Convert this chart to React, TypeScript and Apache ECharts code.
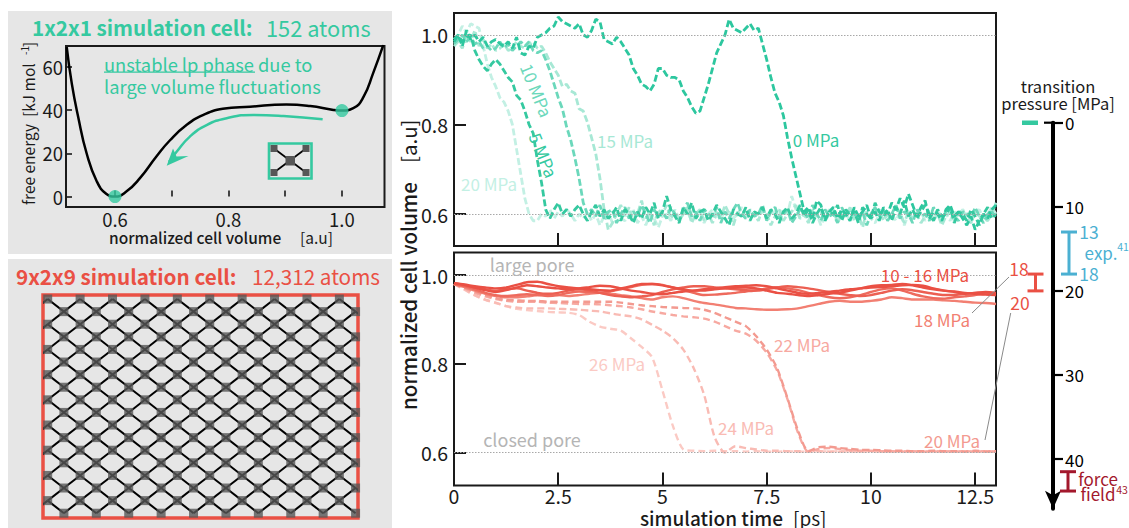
import React, { useEffect, useRef } from "react";
import * as echarts from "echarts";

const FONT = '"Noto Sans CJK SC","Noto Sans",sans-serif';
const TEAL = "#35c9a0";
const RED = "#ea5044";
const BLUE = "#4bb0d2";
const DARKRED = "#a3182c";
const INK = "#1a1a1a";

// Panel A: free energy profile [volume, kJ/mol]
const freeEnergy = [
  [0.515, 69], [0.524, 52], [0.535, 37], [0.55, 20], [0.568, 7], [0.585, 1.2], [0.6, 0], [0.62, 2.3],
  [0.644, 8.5], [0.673, 18.5], [0.697, 26], [0.726, 33], [0.756, 37.7], [0.79, 40.5], [0.838, 41.5],
  [0.902, 42.5], [0.944, 41.8], [0.985, 40], [1.0, 39.7], [1.02, 40.8], [1.038, 46], [1.055, 57], [1.073, 70],
];
const freeEnergyMarks = [[0.6, 0], [1.0, 39.7]];
const collapsePath = [
  [0.966, 35.7], [0.897, 37.2], [0.844, 37.7], [0.797, 36.2], [0.7615, 33], [0.732, 27.7], [0.709, 20.8], [0.695, 16],
];

// Lattice diagram
const latticeColumns = 20;
const latticeRows = 18;

// Top panel: 152 atoms, sampled every 0.1 ps
const mpa0 = [
  .985,
  1.0, .975, 1.01, .99, 1.0, .985, .995, .975, .985, .99,
  .98, .975, .985, .97, .995, .96, .955, .975, .97, .995,
  1.0, 1.005, 1.015, 1.02, 1.04, 1.03, 1.025, 1.02, 1.015, 1.025,
  1.0, .995, 1.01, 1.035, 1.03, .99, .985, .98, .995, .985,
  .97, .955, .925, .91, .89, .885, .875, .89, .925, .925,
  .91, .905, .905, .9, .875, .86, .84, .825, .83, .86,
  .89, .925, .96, .98, 1.0, 1.035, 1.015, 1.01, 1.005, 1.015,
  1.025, 1.01, 1.015, .98, .945, .905, .87, .85, .82, .77,
  .725, .685, .645, .605, .615, .59, .63, .62, .585, .605,
  .615, .59, .61, .6, .585, .615, .595, .605, .62, .59,
  .605, .585, .615, .6, .625, .61, .635, .615, .645, .62,
  .595, .615, .63, .59, .605, .6, .585, .61, .62, .595,
  .605, .59, .575, .595, .565, .585, .6, .59, .61, .62,
];
const mpa5 = [
  .99,
  1.0, .985, .995, 1.0, .965, .945, .93, .92, .935, .945,
  .935, .92, .905, .895, .865, .855, .83, .8, .78, .72,
  .67, .61, .59, .61, .625, .6, .61, .595, .61, .62,
  .6, .585, .605, .62, .595, .61, .59, .6, .615, .585,
  .61, .6, .58, .605, .59, .615, .6, .625, .59, .605,
  .64, .61, .595, .58, .615, .6, .625, .59, .605, .61,
  .585, .6, .62, .605, .59, .575, .61, .6, .595, .615,
  .585, .605, .6, .615, .59, .61, .6, .58, .605, .615,
  .59, .6, .62, .595, .61, .58, .6, .615, .59, .605,
  .6, .62, .585, .61, .595, .605, .58, .615, .6, .59,
  .625, .605, .595, .61, .585, .615, .6, .63, .595, .61,
  .59, .605, .62, .6, .585, .61, .595, .6, .615, .58,
  .605, .6, .585, .61, .595, .575, .6, .615, .59, .6,
];
const mpa10 = [
  .98,
  .99, 1.0, .985, .995, .98, .985, .97, .975, .965, .97,
  .985, .97, .98, .965, .975, .985, .975, .985, .965, .96,
  .965, .945, .92, .89, .86, .835, .795, .765, .725, .68,
  .625, .6, .61, .595, .62, .59, .605, .61, .58, .6,
  .615, .59, .605, .595, .62, .6, .58, .61, .595, .605,
  .59, .615, .6, .585, .61, .625, .595, .605, .585, .61,
  .6, .595, .615, .58, .605, .59, .61, .625, .6, .59,
  .61, .595, .6, .62, .585, .605, .615, .59, .6, .61,
  .58, .595, .61, .605, .59, .62, .6, .585, .61, .595,
  .6, .58, .615, .595, .61, .6, .59, .605, .575, .6,
  .615, .595, .61, .585, .6, .62, .59, .605, .6, .58,
  .61, .595, .6, .585, .615, .6, .59, .605, .61, .595,
  .585, .605, .6, .59, .615, .595, .58, .6, .605, .59,
];
const mpa15 = [
  .975,
  .985, .97, 1.0, .985, 1.01, .975, .99, .97, .98, .965,
  .97, .98, .965, .97, .985, .975, .97, .98, .985, .97,
  .975, .96, .94, .925, .91, .885, .89, .875, .87, .835,
  .83, .805, .77, .735, .68, .61, .565, .58, .6, .62,
  .595, .615, .585, .6, .63, .59, .605, .575, .61, .6,
  .62, .59, .605, .585, .6, .615, .58, .6, .61, .585,
  .6, .58, .605, .59, .62, .6, .575, .605, .595, .61,
  .59, .6, .585, .61, .6, .575, .595, .61, .585, .6,
  .605, .62, .59, .6, .58, .61, .595, .605, .585, .6,
  .61, .58, .6, .595, .615, .585, .6, .57, .605, .59,
  .6, .61, .585, .6, .59, .62, .6, .58, .605, .59,
  .6, .58, .595, .61, .585, .6, .575, .595, .605, .585,
  .6, .61, .59, .58, .605, .595, .59, .585, .6, .625,
];
const mpa20 = [
  .99,
  1.0, 1.02, 1.005, 1.025, 1.02, 1.015, .975, .935, .905, .885,
  .86, .85, .83, .8, .745, .69, .635, .6, .585, .585,
  .6, .595, .61, .59, .605, .595, .61, .6, .585, .6,
  .59, .605, .585, .6, .575, .595, .605, .58, .6, .59,
  .585, .6, .61, .58, .595, .575, .6, .59, .57, .595,
  .6, .585, .61, .59, .6, .605, .585, .59, .605, .58,
  .6, .61, .59, .6, .595, .605, .59, .6, .615, .59,
  .605, .595, .6, .61, .59, .6, .605, .595, .61, .6,
  .64, .61, .59, .6, .585, .605, .6, .575, .595, .61,
  .6, .59, .605, .6, .585, .61, .595, .6, .605, .59,
  .58, .6, .61, .595, .6, .585, .605, .575, .6, .61,
  .59, .605, .585, .6, .595, .61, .59, .6, .585, .605,
  .595, .61, .6, .585, .6, .61, .59, .6, .615, .6,
];

// Bottom panel: 12,312 atoms, sampled every 0.25 ps
const big10 = [.982, .978, .972, .966, .962, .966, .972, .977, .975, .972, .97, .968, .97, .973, .976, .975, .97, .965, .962, .958, .957, .96, .963, .965, .968, .97, .973, .975, .976, .977, .975, .97, .965, .96, .958, .96, .962, .965, .968, .97, .972, .973, .975, .977, .978, .976, .97, .965, .962, .958, .96, .962, .96];
const big12 = [.982, .979, .975, .972, .97, .972, .978, .984, .985, .98, .975, .972, .97, .968, .966, .965, .97, .975, .98, .98, .977, .972, .968, .965, .965, .968, .97, .972, .972, .97, .965, .96, .958, .955, .953, .955, .958, .96, .965, .97, .975, .977, .978, .98, .977, .972, .968, .965, .963, .96, .958, .956, .955];
const big14 = [.981, .977, .972, .968, .965, .968, .97, .965, .96, .958, .96, .965, .968, .965, .96, .955, .952, .95, .952, .955, .962, .968, .972, .975, .975, .972, .97, .968, .966, .965, .968, .972, .975, .973, .97, .966, .962, .958, .955, .953, .955, .96, .965, .968, .966, .962, .958, .955, .955, .958, .96, .958, .955];
const big16 = [.98, .975, .968, .96, .955, .953, .955, .957, .955, .953, .955, .96, .963, .962, .96, .963, .968, .973, .978, .98, .978, .972, .966, .96, .955, .956, .958, .96, .963, .966, .97, .973, .97, .966, .96, .955, .95, .948, .95, .955, .962, .968, .97, .965, .958, .952, .948, .947, .95, .952, .955, .958, .957];
const big18 = [.98, .973, .965, .958, .953, .95, .95, .952, .955, .957, .955, .953, .955, .958, .96, .958, .955, .952, .948, .945, .95, .952, .948, .942, .937, .934, .93, .926, .925, .923, .922, .922, .923, .925, .93, .935, .94, .942, .94, .94, .942, .945, .95, .948, .945, .945, .945, .943, .942, .94, .938, .937, .935];
const big20 = [.98, .972, .963, .955, .948, .944, .943, .942, .942, .94, .94, .94, .94, .94, .94, .94, .938, .935, .932, .93, .928, .927, .926, .925, .922, .915, .905, .895, .885, .862, .832, .79, .722, .65, .603, .612, .613, .61, .608, .606, .606, .605, .604, .604, .603, .603, .604, .603, .603, .602, .604, .602, .603];
const big22 = [.98, .97, .96, .952, .946, .942, .94, .94, .94, .938, .937, .936, .935, .935, .934, .932, .93, .927, .923, .918, .914, .91, .907, .905, .902, .895, .885, .875, .868, .852, .825, .785, .72, .645, .602, .608, .61, .608, .605, .604, .604, .603, .603, .602, .603, .602, .602, .603, .602, .603, .602, .603, .602];
const big24 = [.98, .968, .955, .945, .938, .93, .927, .925, .925, .925, .924, .923, .922, .92, .918, .914, .91, .907, .9, .888, .875, .858, .832, .79, .73, .635, .6, .614, .61, .607, .604, .604, .603, .603, .602, .603, .602, .602, .603, .602, .603, .602, .602, .603, .602, .602, .603, .602, .603, .602, .602, .603, .602];
const big26 = [.98, .967, .954, .944, .937, .93, .924, .921, .919, .917, .916, .915, .91, .895, .884, .879, .875, .857, .838, .815, .74, .66, .607, .604, .603, .604, .603, .603, .602, .603, .602, .602, .603, .602, .602, .603, .602, .603, .602, .602, .603, .602, .602, .603, .602, .602, .603, .602, .602, .603, .602, .602, .603];

// Pressure scale
const pressureTicks = [0, 10, 20, 30, 40];
const simulatedTransition = [18, 20];
const experimentalTransition = [13, 18];
const forceFieldTransition = [41.5, 43.8];

const timeTicks = [0, 2.5, 5, 7.5, 10, 12.5];
const withTimes = (vals: number[], step: number) => vals.map((v, i) => [i * step, v]);

function latticeNodes() {
  const out: number[][] = [];
  for (let r = 0; r < latticeRows; r++)
    for (let c = r % 2; c < latticeColumns; c += 2) out.push([c, r]);
  return out;
}
function latticeBonds() {
  const out: number[][] = [];
  for (const [c, r] of latticeNodes()) {
    if (r + 1 < latticeRows) {
      out.push([c, r, c + 1, r + 1]);
      out.push([c, r, c - 1, r + 1]);
    }
  }
  return out;
}

function txt(text: string, x: number, y: number, fill: string, fontSize: number, extra: any = {}) {
  const { rotation, fontWeight, textAlign } = extra;
  return {
    type: "text", x, y, z: 100, rotation: rotation || 0, silent: true,
    style: { text, fill, fontSize, fontFamily: FONT, fontWeight: fontWeight || 400, textAlign: textAlign || "center", textVerticalAlign: "middle" },
  };
}
const seg = (x1: number, y1: number, x2: number, y2: number, stroke: string, lineWidth: number, z = 50) => ({
  type: "line", z, silent: true, shape: { x1, y1, x2, y2 }, style: { stroke, lineWidth },
});
const box = (x: number, y: number, w: number, h: number, fill: string, z = 50) => ({
  type: "rect", z, silent: true, shape: { x, y, width: w, height: h }, style: { fill },
});
const deg = (d: number) => (d * Math.PI) / 180;

export default function App() {
  const ref = useRef<HTMLDivElement>(null);
  useEffect(() => {
    const chart = echarts.init(ref.current!, null, { renderer: "svg" });
    const trace = (name: string, vals: number[], color: string, width: number, xi: number, step: number, extra: any = {}) => ({
      name, type: "line", xAxisIndex: xi, yAxisIndex: xi, data: withTimes(vals, step), showSymbol: false, symbol: "none",
      lineStyle: { color, width, type: extra.dash || "solid" }, smooth: extra.smooth || false, silent: true, ...(extra.more || {}),
    });
    const refLines = (xi: number) => ({
      type: "line", xAxisIndex: xi, yAxisIndex: xi, data: [], symbol: "none", silent: true,
      markLine: {
        silent: true, symbol: "none", label: { show: false },
        lineStyle: { color: "#a8a8a8", width: 1, type: [1.5, 1.5] }, data: [{ yAxis: 1.0 }, { yAxis: 0.6 }],
      },
    });
    const labelStyle = { fontFamily: FONT, color: INK };
    const hiddenAxis = { show: false };
    const timeAxis = (gridIndex: number, showLabels: boolean) => ({
      type: "value", gridIndex, min: 0, max: 13, interval: 2.5,
      axisLine: { show: false }, splitLine: { show: false },
      axisTick: { show: true, inside: true, length: 13, lineStyle: { color: INK, width: 2 }, customValues: timeTicks },
      axisLabel: { show: showLabels, fontSize: 19.5, margin: 0, customValues: timeTicks, ...labelStyle },
    });
    const volAxis = (gridIndex: number, min: number, max: number, ticks: number[]) => ({
      type: "value", gridIndex, min, max,
      axisLine: { show: false }, splitLine: { show: false },
      axisTick: { show: true, inside: true, length: 12, lineStyle: { color: INK, width: 2 }, customValues: ticks },
      axisLabel: { fontSize: 19.5, margin: 6, customValues: [0.6, 0.8, 1.0], formatter: (v: number) => v.toFixed(1), ...labelStyle },
    });
    const bracket = (name: string, range: number[], xc: number, color: string) => ({
      name, type: "custom", xAxisIndex: 4, yAxisIndex: 4, clip: false, silent: true, data: [[xc, range[0], range[1]]],
      renderItem: (_: any, api: any) => {
        const a = api.coord([api.value(0), api.value(1)]);
        const b = api.coord([api.value(0), api.value(2)]);
        const st = { stroke: color, lineWidth: 3, fill: "none" };
        return {
          type: "group",
          children: [
            { type: "line", shape: { x1: a[0], y1: a[1], x2: b[0], y2: b[1] }, style: st },
            { type: "line", shape: { x1: a[0] - 8, y1: a[1], x2: a[0] + 8, y2: a[1] }, style: st },
            { type: "line", shape: { x1: b[0] - 8, y1: b[1], x2: b[0] + 8, y2: b[1] }, style: st },
          ],
        };
      },
    });

    chart.setOption({
      animation: false,
      backgroundColor: "#fff",
      grid: [
        { left: 66, top: 46, width: 318.5, height: 161, show: true, borderColor: INK, borderWidth: 2, backgroundColor: "transparent" },
        { left: 43, top: 295, width: 315, height: 223, show: true, borderColor: RED, borderWidth: 3.5, backgroundColor: "transparent" },
        { left: 454, top: 13, width: 542, height: 233, show: true, borderColor: INK, borderWidth: 2, backgroundColor: "transparent" },
        { left: 454, top: 252.5, width: 542, height: 233, show: true, borderColor: INK, borderWidth: 2, backgroundColor: "transparent" },
        { left: 1000, top: 122.7, width: 120, height: 386 },
      ],
      xAxis: [
        {
          type: "value", gridIndex: 0, min: 0.5137, max: 1.075, interval: 0.1,
          axisLine: { show: false }, splitLine: { show: false },
          axisTick: { show: true, inside: true, length: 6, lineStyle: { color: INK, width: 1.6 }, customValues: [0.6, 0.7, 0.8, 0.9, 1.0] },
          axisLabel: { fontSize: 18.5, margin: 3, customValues: [0.6, 0.8, 1.0], formatter: (v: number) => v.toFixed(1), ...labelStyle },
        },
        { type: "value", gridIndex: 1, min: -0.29, max: 19.15, ...hiddenAxis },
        timeAxis(2, false),
        timeAxis(3, true),
        { type: "value", gridIndex: 4, min: 0, max: 120, ...hiddenAxis },
      ],
      yAxis: [
        {
          type: "value", gridIndex: 0, min: -4.8, max: 69.5, interval: 20,
          axisLine: { show: false }, splitLine: { show: false },
          axisTick: { show: true, inside: true, length: 6, lineStyle: { color: INK, width: 1.6 }, customValues: [0, 20, 40, 60] },
          axisLabel: { fontSize: 18.5, margin: 3, customValues: [0, 20, 40, 60], ...labelStyle },
        },
        { type: "value", gridIndex: 1, min: -0.32, max: 17.38, inverse: true, ...hiddenAxis },
        volAxis(2, 0.5286, 1.049, [0.6, 0.8]),
        volAxis(3, 0.5256, 1.051, [0.6, 0.8, 1.0]),
        {
          type: "value", gridIndex: 4, min: 0, max: 45.9, inverse: true, position: "left", offset: -53,
          axisLine: { show: true, onZero: false, symbol: ["arrow", "none"], symbolSize: [12, 18], lineStyle: { color: "#000", width: 4 } },
          splitLine: { show: false },
          axisTick: { show: true, inside: true, length: 10, lineStyle: { color: "#000", width: 2.2 }, customValues: pressureTicks },
          axisLabel: { inside: true, fontSize: 17, margin: 12, customValues: pressureTicks, color: "#000", fontFamily: FONT },
        },
      ],
      series: [
        // Panel A
        { type: "line", xAxisIndex: 0, yAxisIndex: 0, data: freeEnergy, smooth: 0.5, symbol: "none", lineStyle: { color: "#000", width: 2.5 }, silent: true },
        { type: "line", xAxisIndex: 0, yAxisIndex: 0, data: collapsePath, smooth: 0.5, symbol: "none", lineStyle: { color: TEAL, width: 2.5 }, silent: true },
        { type: "scatter", xAxisIndex: 0, yAxisIndex: 0, data: freeEnergyMarks, symbolSize: 13, itemStyle: { color: TEAL }, silent: true, z: 5, clip: false },
        // Lattice
        {
          type: "custom", xAxisIndex: 1, yAxisIndex: 1, data: latticeBonds(), silent: true, clip: true, z: 2,
          renderItem: (_: any, api: any) => {
            const a = api.coord([api.value(0), api.value(1)]);
            const b = api.coord([api.value(2), api.value(3)]);
            return { type: "line", shape: { x1: a[0], y1: a[1], x2: b[0], y2: b[1] }, style: { stroke: "#000", lineWidth: 2 } };
          },
        },
        { type: "scatter", xAxisIndex: 1, yAxisIndex: 1, data: latticeNodes(), symbol: "rect", symbolSize: 9, itemStyle: { color: "#575757" }, silent: true, clip: true, z: 3 },
        // Top panel
        refLines(2),
        trace("20 MPa", mpa20, "#c3f0e4", 2.8, 2, 0.1, { dash: [7, 3] }),
        trace("15 MPa", mpa15, "#a7e8d5", 2.8, 2, 0.1, { dash: [7, 3] }),
        trace("10 MPa", mpa10, "#6bd8bb", 2.8, 2, 0.1, { dash: [7, 3] }),
        trace("5 MPa", mpa5, TEAL, 2.8, 2, 0.1, { dash: [7, 3] }),
        trace("0 MPa", mpa0, "#2dc79f", 2.8, 2, 0.1, { dash: [7, 3] }),
        // Bottom panel
        refLines(3),
        trace("26 MPa", big26, "#fbcac4", 2.4, 3, 0.25, { dash: [7, 4], smooth: 0.25 }),
        trace("24 MPa", big24, "#f9bbb4", 2.4, 3, 0.25, { dash: [7, 4], smooth: 0.25 }),
        trace("22 MPa", big22, "#f7a9a1", 2.4, 3, 0.25, { dash: [7, 4], smooth: 0.25 }),
        trace("20 MPa", big20, "#f39a90", 2.4, 3, 0.25, { dash: [7, 4], smooth: 0.25 }),
        trace("18 MPa", big18, "#f27f72", 2.4, 3, 0.25, { smooth: 0.25 }),
        trace("16 MPa", big16, "#ee6a5d", 2.4, 3, 0.25, { smooth: 0.25 }),
        trace("14 MPa", big14, "#ec5f52", 2.4, 3, 0.25, { smooth: 0.25 }),
        trace("12 MPa", big12, RED, 2.4, 3, 0.25, { smooth: 0.25 }),
        trace("10 MPa", big10, RED, 2.4, 3, 0.25, { smooth: 0.25 }),
        // Pressure scale
        bracket("simulation", simulatedTransition, 35.5, RED),
        bracket("experiment", experimentalTransition, 69, BLUE),
        bracket("force field", forceFieldTransition, 68, DARKRED),
      ],
      graphic: {
        elements: [
          box(8, 11, 384, 243, "#e6e6e6", -10),
          box(8, 259, 384, 269, "#e6e6e6", -10),
          // panel A text
          txt("1x2x1 simulation cell:", 32, 27, TEAL, 20.7, { textAlign: "left", fontWeight: 700 }),
          txt("152 atoms", 266, 27, TEAL, 21.8, { textAlign: "left" }),
          txt("unstable lp phase due to", 104, 64, TEAL, 18.3, { textAlign: "left" }),
          txt("large volume fluctuations", 104, 86, TEAL, 18.3, { textAlign: "left" }),
          box(104, 71.5, 151, 1.3, TEAL),
          txt("free energy  [kJ mol", 28, 205, INK, 15.5, { textAlign: "left", rotation: deg(90) }),
          txt("-1", 24.5, 55, INK, 10, { textAlign: "left", rotation: deg(90) }),
          txt("]", 28, 47, INK, 15.5, { textAlign: "left", rotation: deg(90) }),
          txt("normalized cell volume", 109, 237, INK, 15.5, { textAlign: "left", fontWeight: 500 }),
          txt("[a.u]", 300, 237, INK, 15.5, { textAlign: "left" }),
          { type: "polygon", z: 50, silent: true, shape: { points: [[166.7, 165.7], [173, 148.5], [176.5, 156.5], [188.5, 156]] }, style: { fill: TEAL } },
          // inset cell
          { type: "rect", z: 50, silent: true, shape: { x: 269, y: 143.5, width: 42.5, height: 35 }, style: { fill: "none", stroke: TEAL, lineWidth: 2.6 } },
          seg(274, 148.5, 306, 172.5, "#000", 1.7), seg(306, 148.5, 274, 172.5, "#000", 1.7),
          box(270.5, 145, 7, 7, "#575757", 51), box(302.5, 145, 7, 7, "#575757", 51),
          box(270.5, 169, 7, 7, "#575757", 51), box(302.5, 169, 7, 7, "#575757", 51),
          box(285.5, 156, 9.5, 9.5, "#575757", 51),
          // lattice title
          txt("9x2x9 simulation cell:", 16, 276, RED, 20.7, { textAlign: "left", fontWeight: 700 }),
          txt("12,312 atoms", 252, 276, RED, 20.7, { textAlign: "left" }),
          // axis titles
          txt("normalized cell volume", 408, 410, INK, 20.5, { textAlign: "left", rotation: deg(90), fontWeight: 500 }),
          txt("[a.u]", 408, 163, INK, 20.5, { textAlign: "left", rotation: deg(90) }),
          txt("simulation time", 640, 517.5, INK, 19, { textAlign: "left", fontWeight: 500 }),
          txt("[ps]", 793, 517.5, INK, 19, { textAlign: "left" }),
          // top panel labels
          txt("15 MPa", 625, 140, "#a7e8d5", 17),
          txt("20 MPa", 489, 183, "#c3f0e4", 17),
          txt("10 MPa", 537, 90, "#6bd8bb", 17, { rotation: deg(-68) }),
          txt("5 MPa", 544, 155, TEAL, 17, { rotation: deg(-68) }),
          txt("0 MPa", 816, 139, TEAL, 17),
          // bottom panel labels
          txt("large pore", 532, 264, "#b5b5b5", 18),
          txt("closed pore", 532, 439, "#b5b5b5", 18),
          txt("26 MPa", 617, 363, "#fbcac4", 17),
          txt("22 MPa", 802, 344, "#f7a9a1", 17),
          txt("24 MPa", 746, 427, "#f9bbb4", 17),
          txt("20 MPa", 952, 440, "#f39a90", 17),
          txt("18 MPa", 942, 319, "#f27f72", 17),
          txt("10 - 16 MPa", 925, 274, RED, 17),
          seg(972, 313, 1009, 277, "#8a8a8a", 1),
          seg(985, 440, 1010.7, 313, "#8a8a8a", 1),
          // pressure scale
          txt("transition", 1058, 86, INK, 16.5),
          txt("pressure [MPa]", 1058, 103, INK, 16.5),
          seg(1044, 122.7, 1055, 122.7, "#000", 2.2),
          box(1022, 120.5, 16, 4.5, TEAL),
          txt("18", 1019, 268, RED, 17.5),
          txt("20", 1020, 302, RED, 17.5),
          txt("13", 1089, 231, BLUE, 17.5),
          txt("exp.", 1101, 252, BLUE, 17),
          txt("41", 1123, 246, BLUE, 10.5),
          txt("18", 1089, 273, BLUE, 17.5),
          txt("force", 1098, 478, DARKRED, 17),
          txt("field", 1098, 493, DARKRED, 17),
          txt("43", 1122, 489, DARKRED, 10.5),
        ],
      },
    });
    return () => chart.dispose();
  }, []);
  return <div ref={ref} style={{ position: "absolute", left: 0, top: 0, width: 1129, height: 528, overflow: "hidden" }} />;
}
